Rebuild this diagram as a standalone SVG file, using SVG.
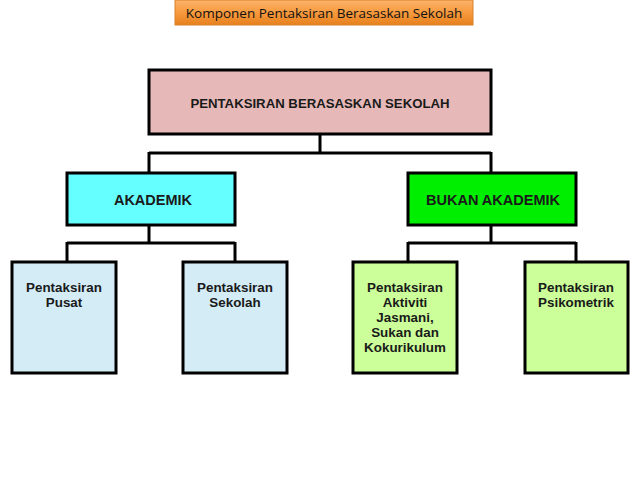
<svg xmlns="http://www.w3.org/2000/svg" width="638" height="479" viewBox="0 0 638 479">
<defs>
<linearGradient id="og" x1="0" y1="0" x2="0" y2="1">
<stop offset="0" stop-color="#fbb46a"/>
<stop offset="0.5" stop-color="#f79a3e"/>
<stop offset="1" stop-color="#e6801e"/>
</linearGradient>
<style>
.box{stroke:#000;stroke-width:3}
.t{font-family:"Liberation Sans",Arial,sans-serif;font-weight:bold;font-size:13.4px;fill:#1a1a1a;text-anchor:middle}
.m{font-size:14.5px}
.r{font-size:13.2px}
.c{stroke:#000;stroke-width:3;fill:none}
</style>
</defs>
<rect width="638" height="479" fill="#fff"/>
<g id="title">
<rect x="175" y="0" width="298" height="25" fill="url(#og)" stroke="#d9822b" stroke-width="1"/>
<text x="324" y="17.5" font-family="'Open Sans','Liberation Sans',sans-serif" font-size="13.5" fill="#111" text-anchor="middle">Komponen Pentaksiran Berasaskan Sekolah</text>
</g>
<g id="connectors">
<path class="c" d="M320 134V153M149 153H491M149 152V173M491 152V173"/>
<path class="c" d="M149 225V243M67 243H235M67 242V262M235 242V262"/>
<path class="c" d="M491 225V243M408 243H576M408 242V262M576 242V262"/>
</g>
<g id="root">
<rect class="box" x="149" y="70" width="342" height="64" fill="#e6b8b7"/>
<text class="t r" x="320" y="107.5">PENTAKSIRAN BERASASKAN SEKOLAH</text>
</g>
<g id="akademik">
<rect class="box" x="67" y="173" width="168" height="52" fill="#66ffff"/>
<text class="t m" x="153" y="204.5">AKADEMIK</text>
</g>
<g id="bukan">
<rect class="box" x="408" y="173" width="168" height="52" fill="#00ee00"/>
<text class="t m" x="493" y="204.5">BUKAN AKADEMIK</text>
</g>
<g id="pusat">
<rect class="box" x="12" y="262" width="104" height="111" fill="#d3ecf6"/>
<text class="t" x="64" y="292">Pentaksiran</text>
<text class="t" x="64" y="307">Pusat</text>
</g>
<g id="sekolah">
<rect class="box" x="183" y="262" width="104" height="111" fill="#d3ecf6"/>
<text class="t" x="235" y="292">Pentaksiran</text>
<text class="t" x="235" y="307">Sekolah</text>
</g>
<g id="aktiviti">
<rect class="box" x="353" y="262" width="104" height="111" fill="#ccff99"/>
<text class="t" x="405" y="292">Pentaksiran</text>
<text class="t" x="405" y="306.5">Aktiviti</text>
<text class="t" x="405" y="321.5">Jasmani,</text>
<text class="t" x="405" y="336.5">Sukan dan</text>
<text class="t" x="405" y="352">Kokurikulum</text>
</g>
<g id="psikometrik">
<rect class="box" x="525" y="262" width="103" height="111" fill="#ccff99"/>
<text class="t" x="576" y="292">Pentaksiran</text>
<text class="t" x="576" y="307">Psikometrik</text>
</g>
</svg>
